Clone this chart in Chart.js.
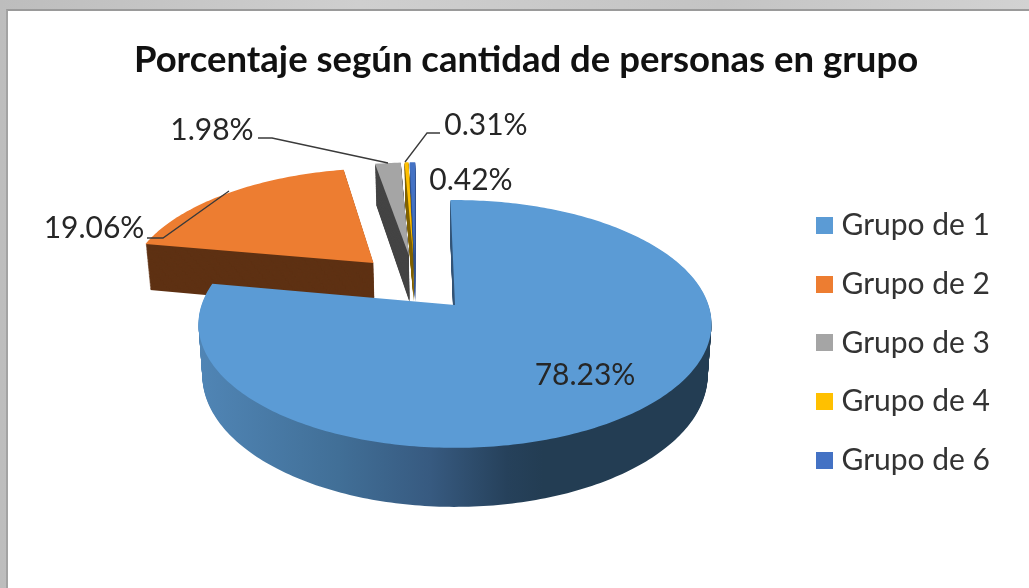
<!DOCTYPE html>
<html>
<head>
<meta charset="utf-8">
<title>Porcentaje según cantidad de personas en grupo</title>
<script src="https://cdn.jsdelivr.net/npm/chart.js@4"></script>
<style>
    html, body { margin: 0; padding: 0; width: 1029px; height: 588px; overflow: hidden; }
    body { background: linear-gradient(90deg, #bdbdbd, #cfcfcf 35%, #c4c4c4 70%, #d2d2d2); position: relative; }
    #frame { position: absolute; left: 6px; top: 9px; right: 0; bottom: 0; background: #fff; border-left: 2px solid #a3a3a3; border-top: 2px solid #9a9a9a; }
    canvas { position: absolute; left: 0; top: 0; }
</style>
</head>
<body>
<div id="frame"></div>
<canvas id="pieChart" width="1029" height="588"></canvas>
<script>
const chartTitle = 'Porcentaje según cantidad de personas en grupo';
const categories = ['Grupo de 1', 'Grupo de 2', 'Grupo de 3', 'Grupo de 4', 'Grupo de 6'];
const percentages = [78.23, 19.06, 1.98, 0.31, 0.42];
const topColors = ['#5b9bd5', '#ed7d31', '#a5a5a5', '#ffc000', '#4472c4'];
const wallColors = [null, '#5e3113', '#444444', '#7f6000', '#34558f'];

// label text comes from the data, these are just where excel put them
const labelBoxes = [
    { x: 585, y: 375 },
    { x: 94, y: 228, leader: [[147, 238], [163, 238], [229, 191]] },
    { x: 212, y: 130, leader: [[258, 138], [272, 138], [388, 163]] },
    { x: 486, y: 125, leader: [[440, 133], [427, 133], [405, 162]] },
    { x: 471, y: 180 }
];

// perspective of the excel 3d pie, disc coordinates are in radius units
const view = { cx: 455, cy: 305, ax: 253.5, by: 121, persp: -0.153, depth: 50, shrink: 0.015, explode: 0.25 };

function project(u, v, t) {
    const w = 1 + view.persp * v;
    const x = view.cx + view.ax * u / w;
    const y = view.cy + view.by * v / w + t * view.depth / w;
    return [view.cx + (x - view.cx) * (1 - view.shrink * t), y];
}

function traceSlice(ctx, arc, shift, t) {
    const mid = (arc.startAngle + arc.endAngle) / 2;
    const ou = view.explode * Math.cos(mid) - shift[0];
    const ov = view.explode * Math.sin(mid) - shift[1];
    const steps = Math.max(4, Math.ceil((arc.endAngle - arc.startAngle) * 60));
    ctx.beginPath();
    const apex = project(ou, ov, t);
    ctx.moveTo(apex[0], apex[1]);
    for (let i = 0; i <= steps; i++) {
        const a = arc.startAngle + (arc.endAngle - arc.startAngle) * i / steps;
        const p = project(ou + Math.cos(a), ov + Math.sin(a), t);
        ctx.lineTo(p[0], p[1]);
    }
    ctx.closePath();
}

// legend swatch as a small canvas, so the gap to the text can be tighter than the default
function swatch(color) {
    const c = document.createElement('canvas');
    c.width = 17;
    c.height = 17;
    const g = c.getContext('2d');
    g.fillStyle = color;
    g.fillRect(0, 0, 17, 17);
    return c;
}

const pie3d = {
    id: 'pie3d',
    beforeDatasetDraw(chart) {
        const ctx = chart.ctx;
        const arcs = chart.getDatasetMeta(0).data;
        const firstMid = (arcs[0].startAngle + arcs[0].endAngle) / 2;
        // the big slice stays put, the others are placed relative to it
        const shift = [view.explode * Math.cos(firstMid), view.explode * Math.sin(firstMid)];

        const blueWall = ctx.createLinearGradient(200, 0, 712, 0);
        blueWall.addColorStop(0, '#5085b5');
        blueWall.addColorStop(0.27, '#416f97');
        blueWall.addColorStop(0.45, '#375a80');
        blueWall.addColorStop(0.6, '#26415b');
        blueWall.addColorStop(0.67, '#233d53');
        blueWall.addColorStop(1, '#233d53');

        ctx.save();
        for (let i = arcs.length - 1; i >= 0; i--) {
            ctx.fillStyle = wallColors[i] || blueWall;
            for (let t = 1; t > 0; t -= 0.02) {
                traceSlice(ctx, arcs[i], shift, t);
                ctx.fill();
            }
            ctx.fillStyle = topColors[i];
            traceSlice(ctx, arcs[i], shift, 0);
            ctx.fill();
        }
        ctx.restore();
        return false;
    },
    afterDatasetsDraw(chart) {
        const ctx = chart.ctx;
        ctx.save();
        ctx.strokeStyle = '#3a3a3a';
        ctx.lineWidth = 1.3;
        labelBoxes.forEach(function(box) {
            if (!box.leader) return;
            ctx.beginPath();
            box.leader.forEach(function(p, i) {
                if (i === 0) ctx.moveTo(p[0], p[1]);
                else ctx.lineTo(p[0], p[1]);
            });
            ctx.stroke();
        });
        ctx.fillStyle = '#262626';
        ctx.font = '30px Lato';
        ctx.textAlign = 'center';
        ctx.textBaseline = 'middle';
        percentages.forEach(function(value, i) {
            ctx.fillText(value.toFixed(2) + '%', labelBoxes[i].x, labelBoxes[i].y);
        });
        ctx.restore();
    }
};

new Chart(document.getElementById('pieChart').getContext('2d'), {
    type: 'pie',
    data: {
        labels: categories,
        datasets: [{
            data: percentages,
            backgroundColor: topColors,
            borderWidth: 0
        }]
    },
    options: {
        responsive: false,
        animation: false,
        rotation: -1.2,
        layout: { padding: { left: 52, right: 29, top: 38, bottom: 84 } },
        plugins: {
            tooltip: { enabled: false },
            title: {
                display: true,
                text: chartTitle,
                color: '#111111',
                font: { family: 'Lato', size: 36.5, weight: 'bold' },
                padding: { top: 0, bottom: 10 }
            },
            legend: {
                position: 'right',
                align: 'end',
                labels: {
                    color: '#333333',
                    font: { family: 'Lato', size: 30 },
                    usePointStyle: true,
                    pointStyleWidth: 3,
                    boxHeight: 17,
                    padding: 28.7,
                    generateLabels(chart) {
                        return categories.map(function(name, i) {
                            return { text: name, pointStyle: swatch(topColors[i]), fontColor: '#333333', lineWidth: 0, index: i };
                        });
                    }
                }
            }
        }
    },
    plugins: [pie3d]
});
</script>
</body>
</html>
